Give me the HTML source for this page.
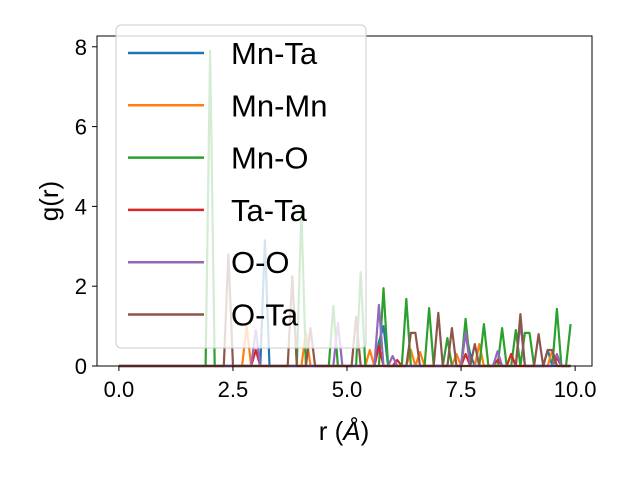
<!DOCTYPE html>
<html><head><meta charset="utf-8"><style>body{margin:0;background:#fff}svg{font-family:"Liberation Sans","DejaVu Sans",sans-serif}</style></head>
<body>
<svg id="c" width="640" height="480"></svg>
<script>
const rStep = 0.1, nPts = 100;
const seriesNames = ["Mn-Ta","Mn-Mn","Mn-O","Ta-Ta","O-O","O-Ta"];
const seriesColors = ["#1f77b4","#ff7f0e","#2ca02c","#d62728","#9467bd","#8c564b"];
const mnTaR = [3.2,5.7,5.8,7.6,7.7,9.4];
const mnTaG = [3.15,0.6,1.0,0.85,0.3,0.4];
const mnMnR = [2.8,4.1,5.5,6.4,6.6,7.4,7.9,8.6,9.5];
const mnMnG = [1.0,0.85,0.4,0.4,0.35,0.3,0.55,0.3,0.4];
const mnOR = [2.0,4.0,4.7,5.3,5.8,6.3,6.8,7.2,7.6,8.0,8.4,8.7,8.9,9.0,9.6,9.9];
const mnOG = [7.9,3.9,1.5,2.35,1.95,1.68,1.45,0.7,1.18,1.05,0.95,0.9,0.83,0.83,1.43,1.05];
const taTaR = [3.0,5.7,6.1,7.6,8.3,8.6,9.6];
const taTaG = [0.4,0.5,0.15,0.3,0.15,0.3,0.2];
const ooR = [3.0,4.8,5.7,6.0,7.6,8.3,8.8,9.6];
const ooG = [0.9,1.08,1.53,0.25,0.85,0.37,1.1,0.3];
const oTaR = [2.4,3.8,4.2,5.2,6.4,6.5,7.0,7.3,7.8,8.8,9.2,9.4,9.5];
const oTaG = [2.8,2.25,0.95,1.23,0.83,0.83,1.33,0.95,0.55,1.3,0.8,0.4,0.4];
const xTicks = [0.0,2.5,5.0,7.5,10.0];
const xTickLabels = ["0.0","2.5","5.0","7.5","10.0"];
const yTicks = [0,2,4,6,8];
const yTickLabels = ["0","2","4","6","8"];

const L=97,R=592,T=36,B=366, xmin=-0.48,xmax=10.37,ymin=0,ymax=8.27;
const X=v=>L+(v-xmin)/(xmax-xmin)*(R-L);
const Y=v=>B-(v-ymin)/(ymax-ymin)*(B-T);
const svg=document.getElementById('c');
const NS="http://www.w3.org/2000/svg";
function mk(t,a,p){const e=document.createElementNS(NS,t);for(const k in a)e.setAttribute(k,a[k]);(p||svg).appendChild(e);return e;}
function build(rs,gs){const v=new Array(nPts).fill(0);rs.forEach((r,i)=>{v[Math.round(r/rStep)]=gs[i];});return v;}
const all=[[mnTaR,mnTaG],[mnMnR,mnMnG],[mnOR,mnOG],[taTaR,taTaG],[ooR,ooG],[oTaR,oTaG]];
all.forEach((s,si)=>{
  const v=build(s[0],s[1]);
  const d=v.map((g,i)=>(i?'L':'M')+X(i*rStep).toFixed(1)+' '+Y(g).toFixed(1)).join(' ');
  const p=mk('path',{d:d,fill:'none',stroke:seriesColors[si],'stroke-width':2.2,'stroke-linejoin':'round'});
  
  
});
mk('rect',{x:L,y:T,width:R-L,height:B-T,fill:'none',stroke:'#000','stroke-width':1,});
xTicks.forEach((t,i)=>{
  mk('line',{x1:X(t),x2:X(t),y1:B,y2:B+5,stroke:'#000',});
  const tx=mk('text',{x:X(t),y:B+31,'font-size':22,'text-anchor':'middle',});tx.textContent=xTickLabels[i];
});
yTicks.forEach((t,i)=>{
  mk('line',{x1:L-5,x2:L,y1:Y(t),y2:Y(t),stroke:'#000',});
  const tx=mk('text',{x:L-10,y:Y(t)+8,'font-size':22,'text-anchor':'end',});tx.textContent=yTickLabels[i];
});
const xl=mk('text',{x:344,y:440,'font-size':26,'text-anchor':'middle',});
xl.innerHTML='r (<tspan font-style="italic">Å</tspan>)';
const yl=mk('text',{x:58,y:201,'font-size':26,'text-anchor':'middle',transform:'rotate(-90 58 201)',});
yl.textContent='g(r)';
const lg=mk('g',{});
mk('rect',{x:116,y:25,width:250,height:323,rx:5,fill:'#fff','fill-opacity':0.8,stroke:'#ccc','stroke-width':1},lg);
seriesNames.forEach((n,i)=>{
  const yy=53+i*52.3;
  const g=mk('g',{},lg);
  
  
  mk('line',{x1:128,x2:204,y1:yy,y2:yy,stroke:seriesColors[i],'stroke-width':2.5},g);
  const t=mk('text',{x:231,y:yy+11,'font-size':31},g);t.textContent=n;
});
</script>
</body></html>
